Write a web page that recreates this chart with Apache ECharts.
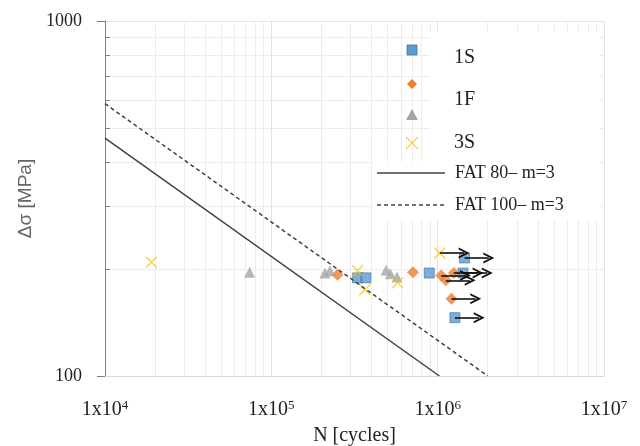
<!DOCTYPE html>
<html>
<head>
    <meta charset="utf-8">
    <title>S-N</title>
    <script src="https://cdn.jsdelivr.net/npm/echarts@6/dist/echarts.min.js"></script>
    <style>
        *{margin: 0;padding: 0;}
    </style>
</head>
<body>
    <div id="main" style="width: 640px;height:446px;"></div>
    <script type="text/javascript">
        // data: [N, stress range]
        var pts1S = [[3.3e5, 189], [3.7e5, 189], [8.9e5, 195]];
        var run1S = [[1.45e6, 215], [1.42e6, 195], [1.27e6, 146]];
        var ptsDia = [[2.5e5, 193], [7.1e5, 196]];
        var runDia = [[1.05e6, 192], [1.12e6, 186], [1.25e6, 195], [1.21e6, 165]];
        var ptsTri = [[7.4e4, 196], [2.1e5, 195], [2.25e5, 198], [4.9e5, 199], [5.2e5, 194], [5.7e5, 190]];
        var pts3S = [[1.9e4, 209], [3.3e5, 198], [3.65e5, 175], [5.75e5, 183]];
        var run3S = [[1.03e6, 222]];
        var fat80 = [[1e4, 468], [1.024e6, 100]];
        var fat100 = [[1e4, 585], [2e6, 100]];
        var arrowLen = 1.4;

        var serif = 'Liberation Serif';
        var myChart = echarts.init(document.getElementById('main'));

        var runouts = run1S.concat(runDia, run3S);
        var arrowData = runouts.map(function (p) {
            return [{coord: [p[0], p[1]]}, {coord: [p[0] * arrowLen, p[1]]}];
        });
        var xPath = 'path://M0,0L10,10M10,0L0,10';
        var chevron = 'path://M0,10L5,0L10,10L8.2,10L5,3.6L1.8,10Z';

        option = {
            animation: false,
            backgroundColor: '#fff',
            grid: {left: 105, top: 21, width: 499, height: 355, outerBoundsMode: 'none', containLabel: false},
            xAxis: {
                type: 'log', logBase: 10, min: 1e4, max: 1e7,
                name: 'N [cycles]', nameLocation: 'middle', nameGap: 50,
                nameTextStyle: {fontFamily: serif, fontSize: 20, color: '#222'},
                axisLine: {lineStyle: {color: '#d9d9d9'}},
                axisTick: {show: false},
                axisLabel: {
                    margin: 23, fontFamily: serif, fontSize: 20, color: '#222', lineHeight: 22,
                    formatter: function (v) {
                        return '1x10{s|' + Math.round(Math.log10(v)) + '}';
                    },
                    rich: {s: {fontFamily: serif, fontSize: 13, color: '#222', verticalAlign: 'top', lineHeight: 12}}
                },
                splitLine: {show: true, lineStyle: {color: '#e3e3e3'}},
                minorTick: {show: false, splitNumber: 9},
                minorSplitLine: {show: true, lineStyle: {color: '#ececec'}}
            },
            yAxis: [{
                type: 'log', logBase: 10, min: 100, max: 1000,
                name: 'Δσ [MPa]', nameLocation: 'middle', nameGap: 66,
                nameTextStyle: {fontFamily: 'Liberation Sans', fontSize: 19, color: '#666'},
                axisLine: {show: true, lineStyle: {color: '#808080'}},
                axisTick: {show: true, length: 8, lineStyle: {color: '#808080'}},
                axisLabel: {margin: 23, fontFamily: serif, fontSize: 18, color: '#222',
                    formatter: function (v) { return String(v); }},
                splitLine: {show: true, lineStyle: {color: '#e3e3e3'}},
                minorTick: {show: false, splitNumber: 9},
                minorSplitLine: {show: true, lineStyle: {color: '#ececec'}}
            }, {
                type: 'log', logBase: 10, min: 100, max: 1000, position: 'left',
                axisLine: {show: false},
                axisTick: {show: false, inside: true},
                axisLabel: {show: false},
                splitLine: {show: false},
                minorTick: {show: true, splitNumber: 9, length: 5, lineStyle: {color: '#808080'}}
            }],
            graphic: [
                {type: 'rect', z: 1, shape: {x: 430, y: 32, width: 170, height: 188}, style: {fill: '#fff'}},
                {type: 'rect', z: 1, shape: {x: 372, y: 162, width: 58, height: 58}, style: {fill: '#fff'}},
                {type: 'rect', z: 2, shape: {x: 407, y: 45, width: 10, height: 10}, style: {fill: '#5b9bd5', stroke: '#41719c', lineWidth: 0.8}},
                {type: 'polygon', z: 2, shape: {points: [[412, 79], [417, 84], [412, 89], [407, 84]]}, style: {fill: '#ed7d31'}},
                {type: 'polygon', z: 2, shape: {points: [[412, 109], [418, 120], [406, 120]]}, style: {fill: '#a5a5a5'}},
                {type: 'line', z: 2, shape: {x1: 406, y1: 137, x2: 418, y2: 149}, style: {stroke: '#ffc000', lineWidth: 1.3, opacity: 0.7}},
                {type: 'line', z: 2, shape: {x1: 418, y1: 137, x2: 406, y2: 149}, style: {stroke: '#ffc000', lineWidth: 1.3, opacity: 0.7}},
                {type: 'text', z: 2, x: 454, y: 58, style: {text: '1S', font: '20px "Liberation Serif"', fill: '#222', verticalAlign: 'middle'}},
                {type: 'text', z: 2, x: 454, y: 100, style: {text: '1F', font: '20px "Liberation Serif"', fill: '#222', verticalAlign: 'middle'}},
                {type: 'text', z: 2, x: 454, y: 143, style: {text: '3S', font: '20px "Liberation Serif"', fill: '#222', verticalAlign: 'middle'}},
                {type: 'line', z: 2, shape: {x1: 377, y1: 173, x2: 445, y2: 173}, style: {stroke: '#404040', lineWidth: 1.3}},
                {type: 'line', z: 2, shape: {x1: 377, y1: 205, x2: 445, y2: 205}, style: {stroke: '#404040', lineWidth: 1.3, lineDash: [4, 3]}},
                {type: 'text', z: 2, x: 455, y: 173, style: {text: 'FAT 80– m=3', font: '18px "Liberation Serif"', fill: '#222', verticalAlign: 'middle'}},
                {type: 'text', z: 2, x: 455, y: 205, style: {text: 'FAT 100– m=3', font: '18px "Liberation Serif"', fill: '#222', verticalAlign: 'middle'}}
            ],
            series: [
                {name: 'FAT 80– m=3', type: 'line', data: fat80, symbol: 'none',
                    lineStyle: {color: '#404040', width: 1.5}},
                {name: 'FAT 100– m=3', type: 'line', data: fat100, symbol: 'none',
                    lineStyle: {color: '#404040', width: 1.5, type: [4, 3]}},
                {name: '1S', type: 'scatter', data: pts1S.concat(run1S), symbol: 'rect', symbolSize: 10,
                    itemStyle: {color: '#5b9bd5', borderColor: '#41719c', borderWidth: 0.8}},
                {name: '1F', type: 'scatter', data: ptsDia.concat(runDia), symbol: 'diamond', symbolSize: 12,
                    itemStyle: {color: '#ed7d31'}},
                {name: '1F ', type: 'scatter', data: ptsTri, symbol: 'triangle', symbolSize: 11,
                    itemStyle: {color: '#a5a5a5'}},
                {name: '3S', type: 'scatter', data: pts3S.concat(run3S), symbol: xPath, symbolSize: 11,
                    itemStyle: {color: 'transparent', borderColor: '#ffc000', borderWidth: 1.4, opacity: 0.75}},
                {name: 'runout', type: 'line', data: [], silent: true,
                    markLine: {
                        silent: true, animation: false,
                        symbol: ['none', chevron], symbolSize: 11,
                        label: {show: false},
                        lineStyle: {color: '#111', width: 1.6, type: 'solid'},
                        data: arrowData
                    }}
            ]
        };

        myChart.setOption(option);
    </script>
</body>
</html>
